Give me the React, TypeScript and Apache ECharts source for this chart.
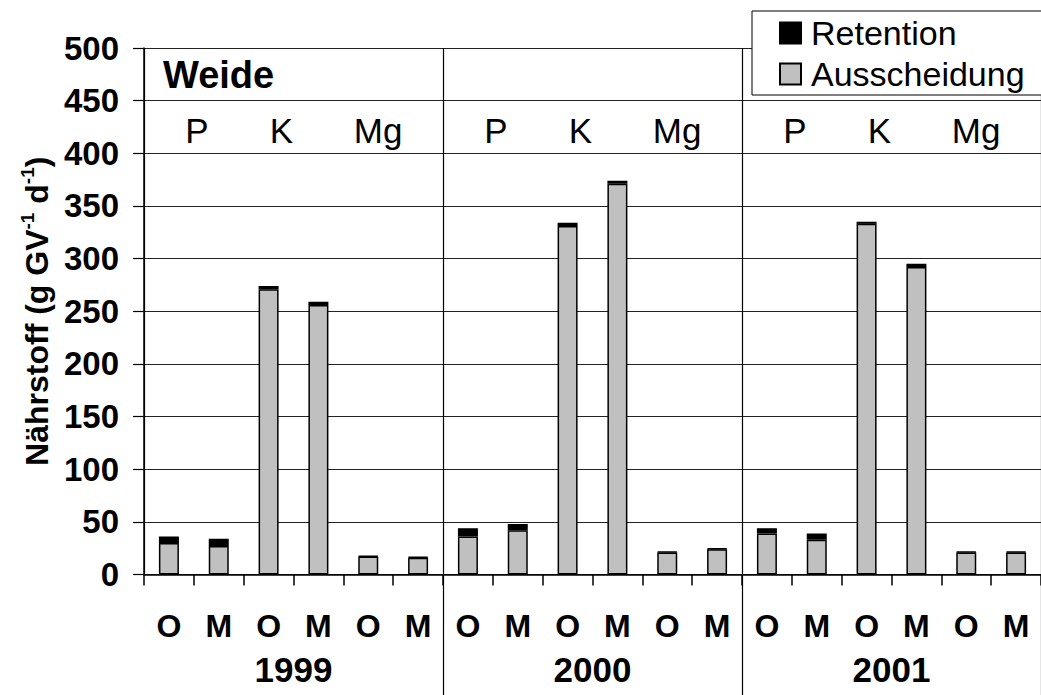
import React, { useEffect, useRef } from "react";
import * as echarts from "echarts";

const categories = ["O", "M", "O", "M", "O", "M", "O", "M", "O", "M", "O", "M", "O", "M", "O", "M", "O", "M"];
const years = ["1999", "2000", "2001"];
const nutrients = ["P", "K", "Mg", "P", "K", "Mg", "P", "K", "Mg"];
const ausscheidung = [30, 27, 271, 256, 17, 16, 36, 42, 331, 371, 21, 24, 39, 33, 333, 292, 21, 21];
const retention = [6, 7, 3, 3, 0.7, 0.7, 8, 6, 3, 3, 0.7, 0.7, 5, 6, 2, 3, 0.7, 0.7];
const yTicks = { min: 0, max: 500, interval: 50 };

const FONT = "'Liberation Sans', Arial, sans-serif";

export default function App() {
  const ref = useRef<HTMLDivElement>(null);
  useEffect(() => {
    if (!ref.current) return;
    const chart = echarts.init(ref.current, null, { renderer: "svg" });
    const nutStyle = { fontFamily: FONT, fontSize: 35, color: "#000" };
    chart.setOption({
      animation: false,
      backgroundColor: "#fff",
      textStyle: { fontFamily: FONT },
      grid: { left: 144, top: 48, bottom: 120.5, right: -10, containLabel: false },
      legend: {
        data: ["Retention", "Ausscheidung"],
        orient: "vertical",
        left: 752,
        top: 11,
        icon: "rect",
        itemWidth: 21,
        itemHeight: 21,
        itemGap: 5,
        padding: [4, 300, 3, 27],
        backgroundColor: "#fff",
        borderColor: "#000",
        borderWidth: 1,
        textStyle: { fontFamily: FONT, fontSize: 34, color: "#000", lineHeight: 36, padding: [0, 0, 0, 5] },
      },
      xAxis: [
        {
          type: "category",
          data: categories,
          position: "bottom",
          axisLine: { show: true, lineStyle: { color: "#000", width: 1.5 } },
          axisTick: { show: true, interval: 0, length: 11, lineStyle: { color: "#000", width: 1.5 } },
          axisLabel: { interval: 0, margin: 35, fontFamily: FONT, fontSize: 32, fontWeight: "bold", color: "#000" },
          splitLine: { show: false },
        },
        {
          type: "category",
          data: years,
          position: "bottom",
          axisLine: { show: false },
          axisTick: {
            show: true,
            length: 125,
            interval: (i: number) => i > 0,
            lineStyle: { color: "#000", width: 1.2 },
          },
          axisLabel: { interval: 0, margin: 77, fontFamily: FONT, fontSize: 35, fontWeight: "bold", color: "#000" },
          splitLine: { show: true, lineStyle: { color: "#000", width: 1.2 } },
        },
        {
          type: "category",
          data: nutrients,
          position: "top",
          axisLine: { show: false },
          axisTick: { show: false },
          axisLabel: {
            inside: true,
            interval: 0,
            margin: 65,
            formatter: (v: string) => (v === "P" ? "{p|P}" : v === "K" ? "{k|K}" : "{m|Mg}"),
            rich: {
              p: { ...nutStyle, padding: [0, 0, 0, 6] },
              k: { ...nutStyle, padding: [0, 24, 0, 0] },
              m: { ...nutStyle, padding: [0, 30, 0, 0] },
            },
          },
          splitLine: { show: false },
        },
      ],
      yAxis: {
        type: "value",
        min: yTicks.min,
        max: yTicks.max,
        interval: yTicks.interval,
        axisLine: { show: true, lineStyle: { color: "#000", width: 1.5 } },
        axisTick: { show: true, length: 11, lineStyle: { color: "#000", width: 1.2 } },
        axisLabel: { margin: 25, fontFamily: FONT, fontSize: 33, fontWeight: "bold", color: "#000" },
        splitLine: { show: true, lineStyle: { color: "#222", width: 1.2 } },
        name: "{a|Nährstoff (g GV}{s|-1}{a| d}{s|-1}{a|)}",
        nameLocation: "middle",
        nameRotate: 90,
        nameGap: 88,
        nameTextStyle: {
          rich: {
            a: { fontFamily: FONT, fontSize: 32, fontWeight: "bold", color: "#000", lineHeight: 38 },
            s: { fontFamily: FONT, fontSize: 19, fontWeight: "bold", color: "#000", lineHeight: 19, verticalAlign: "top" },
          },
        },
      },
      graphic: [
        {
          type: "text",
          left: 163,
          top: 56,
          style: { text: "Weide", fontFamily: FONT, fontSize: 38, fontWeight: "bold", fill: "#000" },
        },
      ],
      series: [
        {
          name: "Ausscheidung",
          type: "bar",
          stack: "total",
          xAxisIndex: 0,
          barWidth: 20,
          data: ausscheidung,
          itemStyle: { color: "#c0c0c0", borderColor: "#000", borderWidth: 1.5 },
        },
        {
          name: "Retention",
          type: "bar",
          stack: "total",
          xAxisIndex: 0,
          barWidth: 20,
          data: retention,
          itemStyle: { color: "#000", borderColor: "#000", borderWidth: 1.5 },
        },
      ],
    });
    return () => chart.dispose();
  }, []);
  return <div ref={ref} style={{ position: "absolute", left: 0, top: 0, width: 1041, height: 695 }} />;
}
